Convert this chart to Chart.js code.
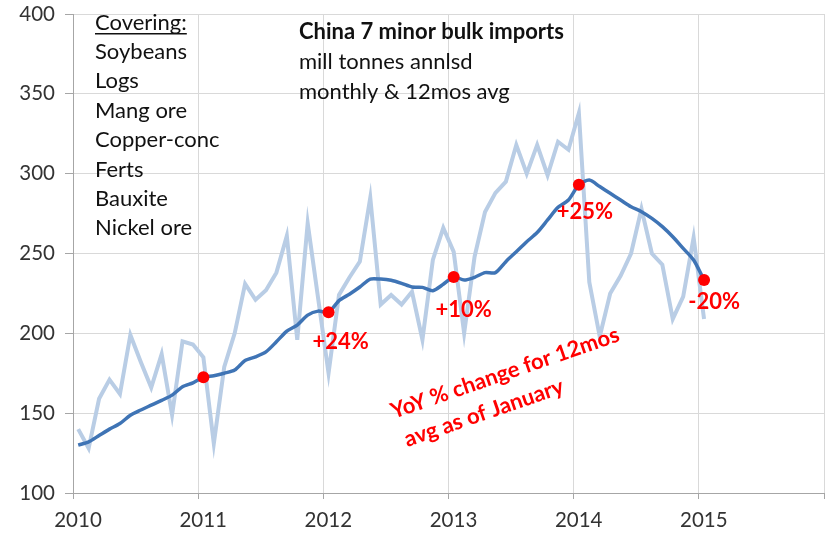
<!DOCTYPE html>
<html>
<head>
<meta charset="utf-8">
<script src="https://cdn.jsdelivr.net/npm/chart.js@4/dist/chart.umd.min.js"></script>
<style>
  html, body { margin: 0; padding: 0; background: #fff; }
  #wrap { width: 827px; height: 534px; }
</style>
</head>
<body>
<div id="wrap"><canvas id="bulkChart" width="827" height="534"></canvas></div>
<script>
// monthly, Jan 2010 .. Jan 2015
const startYear = 2010;
const monthly = [
  140, 128, 159, 171, 162, 199, 182, 166, 187, 149, 195, 193,
  185, 131, 179, 200, 231, 221, 227, 238, 261, 196, 269, 222,
  175, 224, 235, 245, 285, 218, 224, 218, 226, 196, 246, 266,
  251, 200, 248, 276, 288, 295, 318, 300, 318, 299, 320, 315,
  338, 232, 198, 225, 236, 250, 278, 250, 243, 209, 223, 260,
  209
];
const avg12 = [
  130, 132, 136, 140, 143.5, 148.7, 152, 155, 158, 161.3, 166.5, 169,
  172.5, 173.4, 175, 177, 183, 185.3, 188.4, 194.7, 201.4, 205.2, 211.4, 213.9,
  213.2, 220.5, 224.5, 229, 234, 234, 233.2, 231.3, 229, 228.8, 226.7, 230.7,
  235.3, 233.4, 235.1, 238, 238, 244.9, 251.1, 257.4, 263.1, 271, 278.9, 283.5,
  293, 296, 291.9, 287.7, 283.5, 279.3, 276.2, 272, 266.8, 260.5, 253.2, 245.9,
  233.4
];
const yoyLabels = ['', '+24%', '+10%', '+25%', '-20%'];
const covering = ['Soybeans', 'Logs', 'Mang ore', 'Copper-conc', 'Ferts', 'Bauxite', 'Nickel ore'];
const titleLines = ['China 7 minor bulk imports', 'mill tonnes annlsd', 'monthly & 12mos avg'];
const noteLines = ['YoY % change for 12mos', 'avg as of January'];

// month index -> decimal year at mid-month
const xOf = i => startYear + (i + 0.5) / 12;
const monthlyPts = monthly.map((v, i) => ({ x: xOf(i), y: v }));
const avgPts = avg12.map((v, i) => ({ x: xOf(i), y: v }));
const janPts = avgPts.filter((p, i) => i > 0 && i % 12 === 0);

const FONT = 'Lato, "Open Sans", sans-serif';
const RED = '#ff0000';

// label offsets from each red dot (px)
const labelOffsets = [[12, 30], [10, 33], [6, 27], [10, 22]];

const notes = {
  id: 'notes',
  afterDraw(chart) {
    const ctx = chart.ctx;
    ctx.save();
    // covering list
    ctx.fillStyle = '#111';
    ctx.font = `22px ${FONT}`;
    ctx.textBaseline = 'middle';
    ctx.textAlign = 'left';
    ctx.fillText('Covering:', 95, 23);
    const w = ctx.measureText('Covering:').width;
    ctx.fillRect(95, 33, w, 1.5);
    covering.forEach((t, i) => ctx.fillText(t, 95, 52 + i * 29.4));

    // title block
    ctx.font = `bold 22px ${FONT}`;
    ctx.fillText(titleLines[0], 299, 32);
    ctx.font = `22px ${FONT}`;
    ctx.fillText(titleLines[1], 299, 62);
    ctx.fillText(titleLines[2], 299, 92);

    // yoy labels under the January dots
    const meta = chart.getDatasetMeta(0);
    ctx.fillStyle = RED;
    ctx.font = `bold 22px ${FONT}`;
    ctx.textAlign = 'center';
    meta.data.forEach((pt, i) => {
      if (i === 0) return;
      const [dx, dy] = labelOffsets[i - 1];
      ctx.fillText(yoyLabels[i], pt.x + dx, pt.y + dy);
    });

    // rotated note
    const ang = -19 * Math.PI / 180;
    [[505, 373], [484, 413]].forEach(([cx, cy], i) => {
      ctx.save();
      ctx.translate(cx, cy);
      ctx.rotate(ang);
      ctx.fillText(noteLines[i], 0, 0);
      ctx.restore();
    });
    ctx.restore();
  }
};

new Chart(document.getElementById('bulkChart'), {
  type: 'line',
  data: {
    datasets: [
      {
        label: 'Jan',
        data: janPts,
        showLine: false,
        pointRadius: 6,
        pointBackgroundColor: RED,
        pointBorderWidth: 0,
        order: 0
      },
      {
        label: '12mos avg',
        data: avgPts,
        borderColor: '#3f74b5',
        borderWidth: 3.5,
        pointRadius: 0,
        tension: 0.25,
        order: 1
      },
      {
        label: 'monthly',
        data: monthlyPts,
        borderColor: '#b9cde5',
        borderWidth: 4,
        pointRadius: 0,
        tension: 0,
        order: 2
      }
    ]
  },
  options: {
    responsive: false,
    animation: false,
    layout: { autoPadding: false, padding: { top: 14, right: 3, left: 0, bottom: 0 } },
    plugins: { legend: { display: false }, tooltip: { enabled: false } },
    scales: {
      x: {
        type: 'linear',
        min: 2010,
        max: 2016,
        border: { color: '#a6a6a6' },
        grid: { color: '#d9d9d9', tickColor: '#a6a6a6', tickLength: 6 },
        ticks: {
          stepSize: 1,
          padding: 9,
          labelOffset: 5,
          color: '#333',
          font: { family: FONT, size: 20.5 },
          maxRotation: 0,
          callback: v => (v < 2016 ? String(v) : '')
        },
        afterFit: s => { s.height = 41; s.paddingLeft = 0; s.paddingRight = 0; }
      },
      y: {
        min: 100,
        max: 400,
        border: { color: '#a6a6a6' },
        grid: { color: '#d9d9d9', tickColor: '#a6a6a6', tickLength: 8 },
        ticks: {
          stepSize: 50,
          padding: 10,
          color: '#333',
          font: { family: FONT, size: 20.5 }
        },
        afterFit: s => { s.width = 73; s.paddingTop = 0; s.paddingBottom = 0; }
      }
    }
  },
  plugins: [notes]
});
</script>
</body>
</html>
